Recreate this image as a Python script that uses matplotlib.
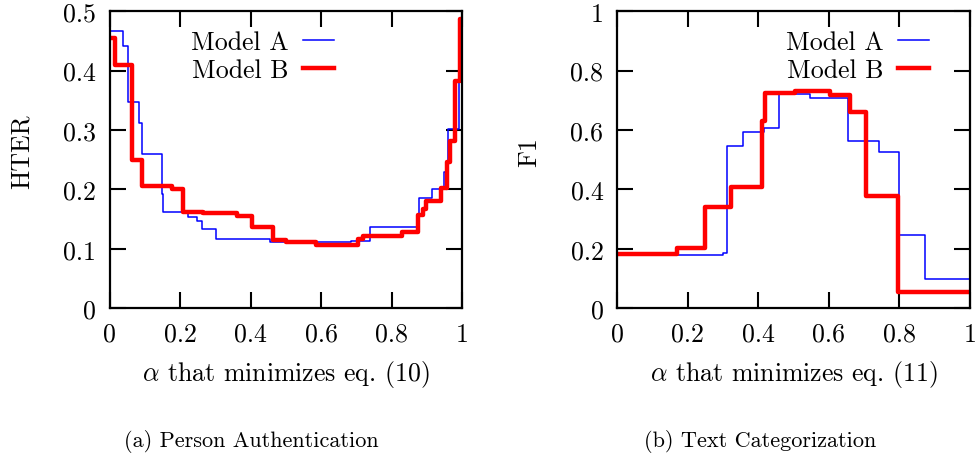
import matplotlib
matplotlib.use("Agg")
import matplotlib.pyplot as plt

plt.rcParams["font.family"] = ["cmr10", "DejaVu Serif"]
plt.rcParams["mathtext.fontset"] = "cm"
plt.rcParams["axes.formatter.use_mathtext"] = True

# (a) person authentication: HTER vs alpha, step curves
auth_a_x = [0, 0.039, 0.053, 0.084, 0.091, 0.149, 0.153, 0.224, 0.247, 0.262, 0.302,
            0.455, 0.685, 0.739, 0.879, 0.914, 0.949, 0.961, 0.990, 0.996, 1.0]
auth_a_y = [0.466, 0.442, 0.347, 0.312, 0.260, 0.192, 0.161, 0.153, 0.147, 0.133, 0.116,
            0.112, 0.113, 0.136, 0.185, 0.201, 0.229, 0.302, 0.431, 0.48, 0.48]
auth_b_x = [0, 0.016, 0.063, 0.093, 0.176, 0.208, 0.266, 0.361, 0.403, 0.463, 0.501,
            0.586, 0.706, 0.720, 0.829, 0.874, 0.888, 0.898, 0.940, 0.957, 0.966,
            0.980, 0.994, 1.0]
auth_b_y = [0.455, 0.409, 0.250, 0.205, 0.201, 0.162, 0.160, 0.155, 0.136, 0.115, 0.111,
            0.106, 0.116, 0.122, 0.128, 0.157, 0.167, 0.181, 0.202, 0.246, 0.282,
            0.382, 0.487, 0.487]

# (b) text categorization: F1 vs alpha
text_a_x = [0, 0.300, 0.310, 0.357, 0.417, 0.459, 0.546, 0.655, 0.741, 0.799, 0.874, 1.0]
text_a_y = [0.180, 0.185, 0.547, 0.592, 0.606, 0.721, 0.708, 0.562, 0.525, 0.246, 0.098, 0.098]
text_b_x = [0, 0.168, 0.248, 0.322, 0.409, 0.418, 0.505, 0.604, 0.660, 0.705, 0.797, 1.0]
text_b_y = [0.182, 0.201, 0.339, 0.407, 0.631, 0.726, 0.732, 0.717, 0.660, 0.379, 0.055, 0.055]

x_ticks = [0, 0.2, 0.4, 0.6, 0.8, 1.0]
x_labels = ["0", "0.2", "0.4", "0.6", "0.8", "1"]
auth_yticks = [0, 0.1, 0.2, 0.3, 0.4, 0.5]
auth_ylabels = ["0", "0.1", "0.2", "0.3", "0.4", "0.5"]
text_yticks = [0, 0.2, 0.4, 0.6, 0.8, 1.0]
text_ylabels = ["0", "0.2", "0.4", "0.6", "0.8", "1"]

FS = 18.6
fig = plt.figure(figsize=(9.76, 4.6), dpi=100)
ax1 = fig.add_axes([0.1122, 0.3283, 0.3612, 0.645])
ax2 = fig.add_axes([0.6325, 0.3283, 0.3612, 0.645])


def panel(ax, ax_, ay, bx, by, yticks, ylabels, ylim, ylabel, xlabel, leg_x):
    ax.step(ax_, ay, where="post", color="#0000ff", lw=1.1, label="Model A")
    ax.step(bx, by, where="post", color="#ff0000", lw=3.2, label="Model B")
    ax.set_xlim(0, 1)
    ax.set_ylim(*ylim)
    ax.set_xticks(x_ticks)
    ax.set_xticklabels(x_labels)
    ax.set_yticks(yticks)
    ax.set_yticklabels(ylabels)
    ax.tick_params(direction="in", length=11.5, width=1.5, top=True, right=True,
                   labelsize=FS)
    ax.tick_params(axis="x", pad=10)
    ax.tick_params(axis="y", pad=10)
    for s in ax.spines.values():
        s.set_linewidth(1.6)
    ax.set_xlabel(xlabel, fontsize=FS, labelpad=9)
    ax.set_ylabel(ylabel, fontsize=FS)
    ax.yaxis.set_label_coords(-0.216, 0.53)
    ax.legend(loc="upper right", bbox_to_anchor=(leg_x, 0.937), frameon=False,
              markerfirst=False, fontsize=FS, handlelength=1.2, handletextpad=0.55,
              labelspacing=0.19, borderpad=0, borderaxespad=0)


panel(ax1, auth_a_x, auth_a_y, auth_b_x, auth_b_y, auth_yticks, auth_ylabels,
      (0, 0.5), "HTER", r"$\alpha$ that minimizes eq. (10)", 0.637)
panel(ax2, text_a_x, text_a_y, text_b_x, text_b_y, text_yticks, text_ylabels,
      (0, 1.0), "F1", r"$\alpha$ that minimizes eq. (11)", 0.884)

fig.text(251.7 / 976, 1 - 441.7 / 460, "(a) Person Authentication", fontsize=16,
         ha="center", va="center")
fig.text(760 / 976, 1 - 441.7 / 460, "(b) Text Categorization", fontsize=16,
         ha="center", va="center")

fig.savefig("out.png", dpi=100)
